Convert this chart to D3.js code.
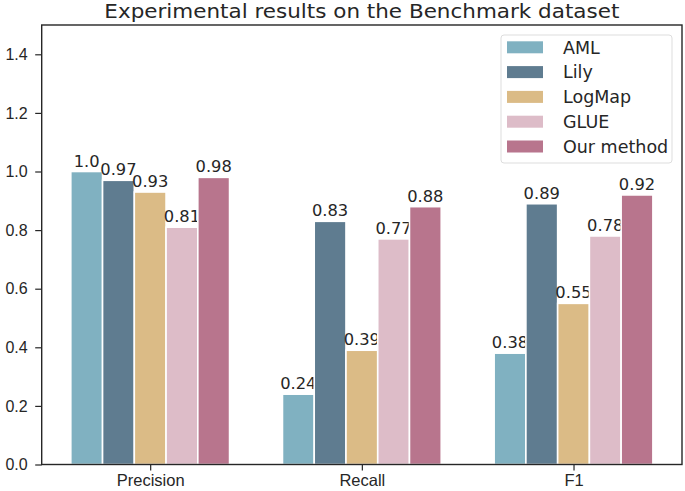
<!DOCTYPE html>
<html>
<head>
<meta charset="utf-8">
<script src="https://cdn.jsdelivr.net/npm/d3@7"></script>
<style>
  body { margin: 0; background: #fff; }
  svg { display: block; font-family: 'DejaVu Sans', sans-serif; }
  .axis path, .axis line { stroke: #262626; stroke-width: 1.2; }
  .axis text { fill: #262626; font-size: 16px; }
  .axis--x text { font-size: 16.5px; }
</style>
</head>
<body>
<svg width="685" height="491"></svg>
<script>
const categories = ['Precision', 'Recall', 'F1'];
const methods = ['AML', 'Lily', 'LogMap', 'GLUE', 'Our method'];
const colors = ['#80b1c1', '#5f7c90', '#dbbb86', '#ddbcc8', '#b8758d'];

const aml = [1.0, 0.24, 0.38];
const lily = [0.97, 0.83, 0.89];
const logmap = [0.93, 0.39, 0.55];
const glue = [0.81, 0.77, 0.78];
const ours = [0.98, 0.88, 0.92];
const series = [aml, lily, logmap, glue, ours];

const yTicks = [0.0, 0.2, 0.4, 0.6, 0.8, 1.0, 1.2, 1.4];

const svg = d3.select('svg');
const margin = { top: 25, right: 3, bottom: 26.5, left: 41.7 };
const width = +svg.attr('width') - margin.left - margin.right;
const height = +svg.attr('height') - margin.top - margin.bottom;

const barW = 0.15;

const x = d3.scaleLinear()
    .domain([-0.5125, 2.5125])
    .range([0, width]);

const y = d3.scaleLinear()
    .domain([0, 1.5])
    .range([height, 0]);

// python-style str() of a float: 1.0 stays "1.0"
const fmt = v => (Number.isInteger(v) ? v.toFixed(1) : String(v));

const g = svg.append('g').attr('transform', `translate(${margin.left},${margin.top})`);

// Bars, one group per method
series.forEach((vals, j) => {
    const off = (j - 2) * barW;
    const sg = g.append('g');
    sg.selectAll('rect')
        .data(vals)
        .join('rect')
        .attr('x', (d, i) => x(i + off - barW / 2))
        .attr('y', d => y(d))
        .attr('width', x(barW) - x(0))
        .attr('height', d => y(0) - y(d))
        .attr('fill', colors[j])
        .attr('stroke', '#fff')
        .attr('stroke-width', 1.6);

    sg.selectAll('text')
        .data(vals)
        .join('text')
        .attr('x', (d, i) => x(i + off))
        .attr('y', d => y(d) - 5)
        .attr('text-anchor', 'middle')
        .attr('font-size', 16.3)
        .attr('fill', '#262626')
        .text(d => fmt(d));
});

// Axes
g.append('g')
    .attr('class', 'axis axis--x')
    .attr('transform', `translate(0,${height})`)
    .call(d3.axisBottom(x).tickValues([0, 1, 2]).tickFormat(i => categories[i]).tickSize(6).tickPadding(4))
    .call(a => a.select('.domain').remove());

g.append('g')
    .attr('class', 'axis axis--y')
    .call(d3.axisLeft(y).tickValues(yTicks).tickFormat(d3.format('.1f')).tickSize(6.5).tickPadding(7.5))
    .call(a => a.select('.domain').remove());

// Frame
g.append('rect')
    .attr('width', width)
    .attr('height', height)
    .attr('fill', 'none')
    .attr('stroke', '#262626')
    .attr('stroke-width', 1.4);

// Title
svg.append('text')
    .attr('x', margin.left + width / 2)
    .attr('y', 18)
    .attr('text-anchor', 'middle')
    .attr('font-size', 19)
    .attr('textLength', 515)
    .attr('lengthAdjust', 'spacingAndGlyphs')
    .attr('fill', '#262626')
    .text('Experimental results on the Benchmark dataset');

// Legend
const lg = svg.append('g').attr('transform', 'translate(501,35)');
lg.append('rect')
    .attr('width', 171)
    .attr('height', 128)
    .attr('rx', 3)
    .attr('fill', '#fff')
    .attr('fill-opacity', 0.8)
    .attr('stroke', '#dddddd');

const item = lg.selectAll('g.item')
    .data(methods)
    .join('g')
    .attr('class', 'item')
    .attr('transform', (d, i) => `translate(6,${12.3 + i * 24.8})`);

item.append('rect')
    .attr('y', -6)
    .attr('width', 36)
    .attr('height', 12)
    .attr('fill', (d, i) => colors[i]);

item.append('text')
    .attr('x', 56)
    .attr('y', 6.3)
    .attr('font-size', 17.5)
    .attr('fill', '#262626')
    .text(d => d);
</script>
</body>
</html>
